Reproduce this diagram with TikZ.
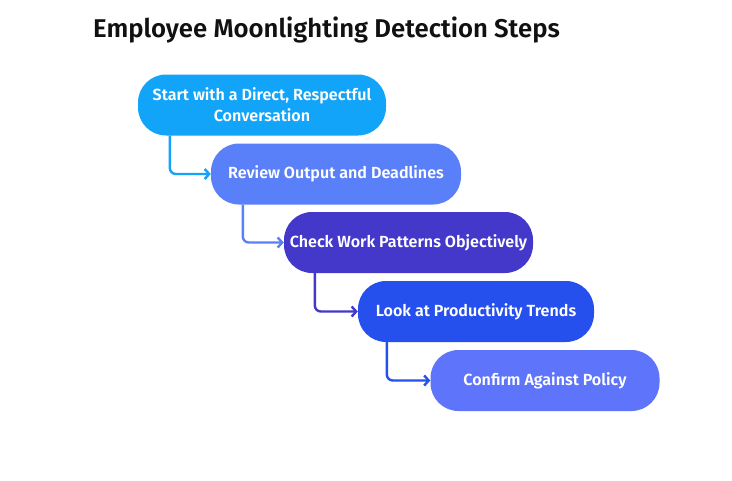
\documentclass[tikz,border=0pt]{standalone}
\usepackage{fontspec}
\setmainfont{Fira Sans}[BoldFont={Fira Sans SemiBold}]
\usetikzlibrary{arrows.meta}
\definecolor{c1}{HTML}{12A4F9}
\definecolor{c2}{HTML}{5A80F9}
\definecolor{c3}{HTML}{4338CA}
\definecolor{c4}{HTML}{2650EE}
\definecolor{c5}{HTML}{5E74FA}
\definecolor{ttl}{HTML}{111111}
\tikzset{
  stepbox/.style={rounded corners=28pt, minimum height=61pt, inner sep=0pt,
    text=white, font=\bfseries\fontsize{16.1}{21}\selectfont, align=center},
  conn/.style={line width=2.4pt, rounded corners=6pt,
    -{Straight Barb[length=4.5pt,width=10pt,line width=2.4pt]}}
}
\begin{document}
\begin{tikzpicture}[x=1pt,y=-1pt]
\useasboundingbox (0,0) rectangle (732,480);
\fill[white] (0,0) rectangle (732,480);
\node[anchor=base west, font=\bfseries\fontsize{25.7}{30}\selectfont, text=ttl, inner sep=0pt] (title) at (93,37) {Employee Moonlighting Detection Steps};
\node[stepbox, fill=c1, minimum width=248pt] (b1) at (262,105) {Start with a Direct, Respectful\\Conversation};
\node[stepbox, fill=c2, minimum width=250pt] (b2) at (336,174) {Review Output and Deadlines};
\node[stepbox, fill=c3, minimum width=249pt] (b3) at (408.5,242.5) {Check Work Patterns Objectively};
\node[stepbox, fill=c4, minimum width=236pt] (b4) at (476,311.5) {Look at Productivity Trends};
\node[stepbox, fill=c5, minimum width=229pt] (b5) at (545,380.5) {Confirm Against Policy};
\coordinate (s1) at ([xshift=32pt]b1.south west);
\coordinate (s2) at ([xshift=32pt]b2.south west);
\coordinate (s3) at ([xshift=31pt]b3.south west);
\coordinate (s4) at ([xshift=29pt]b4.south west);
\draw[conn, c1] (s1) |- (b2.west);
\draw[conn, c2] (s2) |- (b3.west);
\draw[conn, c3] (s3) |- (b4.west);
\draw[conn, c4] (s4) |- (b5.west);
\end{tikzpicture}
\end{document}
